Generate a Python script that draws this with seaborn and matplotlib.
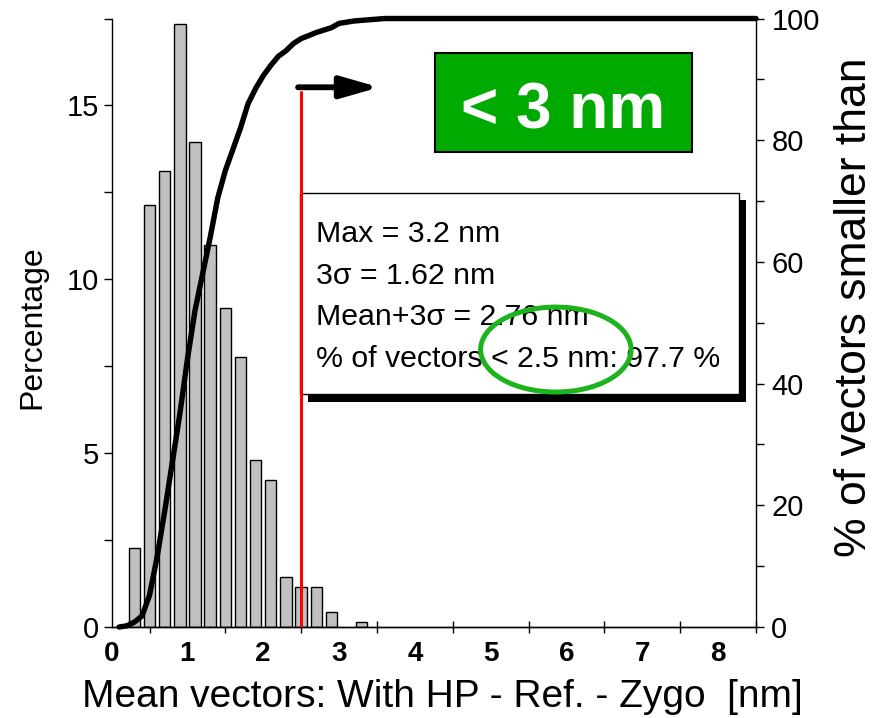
import numpy as np
import pandas as pd
import matplotlib
matplotlib.use("Agg")
import matplotlib.pyplot as plt
from matplotlib.patches import Rectangle, Ellipse
import seaborn as sns

# ---------------- data ----------------
bin_centers = [0.3, 0.5, 0.7, 0.9, 1.1, 1.3, 1.5, 1.7, 1.9, 2.1, 2.3, 2.5, 2.7, 2.9, 3.3]
percentage = [2.27, 12.13, 13.12, 17.35, 13.96, 11.0, 9.17, 7.76, 4.79, 4.24,
              1.43, 1.14, 1.14, 0.42, 0.15]

cum_x = [0.1, 0.2, 0.3, 0.4, 0.5, 0.6, 0.7, 0.8, 0.9, 1.0, 1.1, 1.2, 1.3, 1.4,
         1.5, 1.6, 1.7, 1.8, 1.9, 2.0, 2.1, 2.2, 2.3, 2.4, 2.5, 2.6, 2.7, 2.8,
         2.9, 3.0, 3.2, 3.4, 3.6, 8.5]
cum_y = [0, 0.2, 0.8, 1.8, 5.2, 11.5, 19, 27, 35, 44, 52, 58, 64, 70.5,
         75, 78.5, 82, 86, 88.5, 90.6, 92.3, 93.8, 94.7, 95.9, 96.7, 97.2, 97.7, 98.1,
         98.5, 99.2, 99.6, 99.8, 100, 100]

x_tick_labels = ["0", "1", "2", "3", "4", "5", "6", "7", "8"]
left_ticks = [0, 5, 10, 15]
right_ticks = [0, 20, 40, 60, 80, 100]

limit_value = 2.5
stats_lines = ["Max = 3.2 nm", "3σ = 1.62 nm", "Mean+3σ = 2.76 nm",
               "% of vectors < 2.5 nm: 97.7 %"]
badge_text = "< 3 nm"

# ---------------- style ----------------
sns.set_style("ticks", rc={"axes.edgecolor": "black", "xtick.color": "black",
                           "ytick.color": "black", "text.color": "black",
                           "axes.labelcolor": "black"})
plt.rcParams["font.family"] = ["Liberation Sans", "DejaVu Sans"]

fig = plt.figure(figsize=(8.76, 7.18), dpi=100)
ax = fig.add_subplot(111)
fig.subplots_adjust(left=0.1274, right=0.863, bottom=0.1267, top=0.9742)

df = pd.DataFrame({"x": bin_centers, "pct": percentage})
sns.barplot(data=df, x="x", y="pct", native_scale=True, width=0.75,
            color="#c0c0c0", saturation=1, edgecolor="black", linewidth=1.0,
            errorbar=None, ax=ax)

ax2 = ax.twinx()
sns.lineplot(x=cum_x, y=cum_y, ax=ax2, color="black", linewidth=3.9,
             clip_on=False, solid_joinstyle="round", solid_capstyle="round")

# limits
ax.set_xlim(0, 8.5)
ax.set_ylim(0, 17.5)
ax2.set_ylim(0, 100)

# ticks
ax.set_xticks(range(9))
ax.set_xticklabels(x_tick_labels, fontsize=20, fontweight="bold")
ax.set_xticks(np.arange(0.5, 8.6, 1.0), minor=True)
ax.tick_params(axis="x", which="major", length=0, pad=10)
ax.tick_params(axis="x", which="minor", direction="inout", length=8, width=1.0)

ax.set_yticks(left_ticks)
ax.set_yticklabels([str(t) for t in left_ticks], fontsize=21)
ax.set_yticks([2.5, 7.5, 12.5, 17.5], minor=True)
ax.tick_params(axis="y", which="both", direction="out", length=6, width=1.0, pad=3)

ax2.set_yticks(right_ticks)
ax2.set_yticklabels([str(t) for t in right_ticks], fontsize=21)
ax2.set_yticks([10, 30, 50, 70, 90], minor=True)
ax2.tick_params(axis="y", which="both", direction="out", length=6, width=1.0, pad=5)

# spines
for a in (ax, ax2):
    a.spines["top"].set_visible(False)
    for s in a.spines.values():
        s.set_linewidth(1.0)
ax.spines["right"].set_visible(False)
ax2.spines["left"].set_visible(False)

# labels
ax.set_xlabel("Mean vectors: With HP - Ref. - Zygo  [nm]", fontsize=28)
ax.xaxis.set_label_coords(0.5135, -0.085)
ax.set_ylabel("Percentage", fontsize=23)
ax.yaxis.set_label_coords(-0.099, 0.493)
ax2.set_ylabel("% of vectors smaller than", fontsize=32)
ax2.yaxis.set_label_coords(1.121, 0.526)

# red limit line
ax2.plot([limit_value, limit_value], [0, 87.9], color="#ff0000", linewidth=2.2,
         zorder=8)

# arrow
ax2.annotate("", xy=(3.53, 88.7), xytext=(2.46, 88.7),
             arrowprops=dict(arrowstyle="-|>,head_length=1.15,head_width=0.33",
                             lw=4.2, color="black", shrinkA=0, shrinkB=0,
                             mutation_scale=20, capstyle="round"))

# green badge
ax2.add_patch(Rectangle((4.27, 78.0), 3.39, 16.3, facecolor="#00aa00",
                        edgecolor="black", linewidth=1.5, zorder=4))
ax2.text(5.95, 81.9, badge_text, color="white", fontsize=46, fontweight="bold",
         ha="center", va="baseline", zorder=5)

# stats box with shadow
ax2.add_patch(Rectangle((2.59, 37.0), 5.78, 33.1, facecolor="black",
                        edgecolor="black", linewidth=0, zorder=3))
ax2.add_patch(Rectangle((2.49, 38.3), 5.78, 33.0, facecolor="white",
                        edgecolor="black", linewidth=1.0, zorder=4))
baselines = [63.2, 56.4, 49.6, 42.7]
for line, yb in zip(stats_lines, baselines):
    ax2.text(2.70, yb, line, fontsize=21.8, ha="left", va="baseline", zorder=5)

# green ellipse highlight
ax2.add_patch(Ellipse((5.86, 45.6), width=1.985, height=13.96, fill=False,
                      edgecolor="#1db31d", linewidth=3.6, zorder=6))

fig.savefig("out.png", dpi=100)
